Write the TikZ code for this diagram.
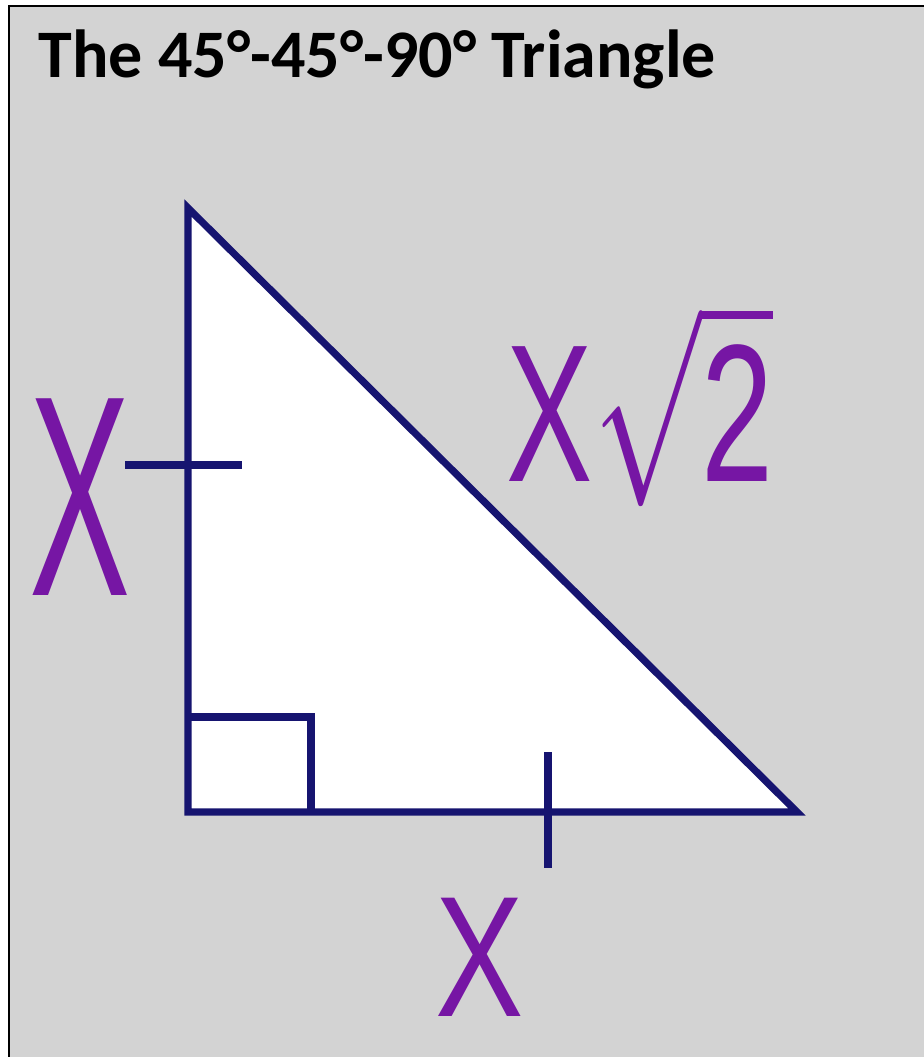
\RequirePackage{fix-cm}
\documentclass[tikz,border=0pt]{standalone}
\usepackage{fontspec}
\setmainfont{Carlito}
\newfontfamily\handfont{Liberation Sans}
\usetikzlibrary{positioning}
\definecolor{navyline}{RGB}{22,20,112}
\definecolor{penpurple}{RGB}{118,22,164}
\definecolor{panelgray}{RGB}{211,211,211}

\begin{document}
\begin{tikzpicture}[x=0.5pt,y=-0.5pt,
    side/.style={line width=3.6pt, navyline},
    hand/.style={penpurple, inner sep=0pt, font=\handfont}]
  \useasboundingbox (0,0) rectangle (923,1057);
  \draw[line width=1pt, fill=panelgray] (9,6) rectangle (926,1060);
  \node[anchor=base west, inner sep=0pt,
        font=\fontsize{34}{40}\selectfont\bfseries]
    (title) at (38,77) {The 45°-45°-90° Triangle};
  % triangle
  \coordinate (top) at (188,208);
  \coordinate (corner) at (188,812);
  \coordinate (tip) at (797,812);
  \filldraw[side, fill=white] (top) -- (corner) -- (tip) -- cycle;
  % right angle mark
  \coordinate (boxA) at (188,717);
  \coordinate (boxB) at (311,717);
  \coordinate (boxC) at (311,812);
  \draw[side] (boxA) -- (boxB) -- (boxC);
  % equal sides
  \coordinate (tickL1) at (125,465);
  \coordinate (tickL2) at (242,465);
  \coordinate (tickB1) at (548,752);
  \coordinate (tickB2) at (548,868);
  \draw[side] (tickL1) -- (tickL2);
  \draw[side] (tickB1) -- (tickB2);
  % labels
  \node[hand] (legL) at (80,497)
    {\fontsize{143}{143}\selectfont\scalebox{0.53}[1]{X}};
  \node[hand] (legB) at (480,957)
    {\fontsize{86}{86}\selectfont\scalebox{0.77}[1]{X}};
  \node[hand] (hyp) at (640,405)
    {\fontsize{98}{98}\selectfont\scalebox{0.66}[1]{X$\sqrt{\hbox{\handfont 2}}$}};
\end{tikzpicture}
\end{document}
